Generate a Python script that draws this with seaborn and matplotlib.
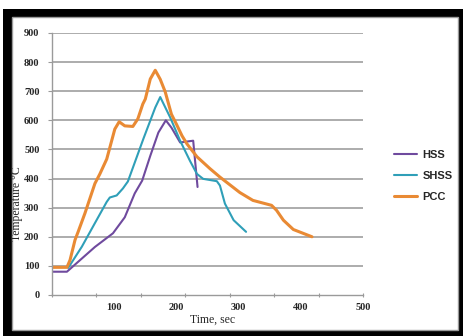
import numpy as np
import pandas as pd
import seaborn as sns
import matplotlib.pyplot as plt
from matplotlib.patches import Rectangle

# values
hss_time = [0, 24, 42, 69, 98, 117, 133, 145, 158, 171, 183, 192, 206, 227, 234]
hss_temp = [80, 80, 114, 165, 212, 267, 349, 393, 478, 558, 600, 575, 524, 530, 371]

shss_time = [26, 48, 69, 88, 93, 104, 114, 122, 147, 166, 174, 190, 206, 222, 233,
             243, 265, 270, 278, 292, 312]
shss_temp = [93, 166, 247, 320, 335, 342, 366, 390, 537, 644, 680, 610, 530, 460, 416,
             399, 391, 376, 314, 257, 217]

pcc_time = [0, 24, 29, 37, 42, 53, 61, 69, 77, 88, 101, 108, 117, 130, 138, 146, 150,
            158, 166, 174, 182, 192, 200, 209, 217, 233, 254, 270, 302, 323, 353, 361,
            372, 388, 418]
pcc_temp = [95, 95, 120, 189, 217, 281, 332, 383, 416, 467, 570, 595, 581, 579, 605, 656,
            673, 742, 772, 741, 698, 621, 587, 547, 519, 475, 434, 405, 352, 325, 308, 291,
            257, 225, 200]

series = ["HSS", "SHSS", "PCC"]
colors = {"HSS": "#6f4a9e", "SHSS": "#2f9fb8", "PCC": "#e98a34"}
y_ticks = [0, 100, 200, 300, 400, 500, 600, 700, 800, 900]
x_labels = [100, 200, 300, 400, 500]


def build_frame():
    parts = []
    for name, t, v in zip(series, [hss_time, shss_time, pcc_time],
                          [hss_temp, shss_temp, pcc_temp]):
        parts.append(pd.DataFrame({"time": t, "temp": v, "series": name}))
    return pd.concat(parts, ignore_index=True)


def plot_chart(df):
    sns.set_style("white")
    fig = plt.figure(figsize=(4.64, 3.36), dpi=100)

    # black outer frame and white inner panel like the screenshot
    fig.patches.append(Rectangle((3 / 464, 0), 461 / 464, 327 / 336,
                                 transform=fig.transFigure, facecolor="black",
                                 edgecolor="none", zorder=-2))
    fig.patches.append(Rectangle((12 / 464, 6 / 336), 446 / 464, 313 / 336,
                                 transform=fig.transFigure, facecolor="white",
                                 edgecolor="#9a9a9a", linewidth=1.0, zorder=-1))

    ax = fig.add_axes([52 / 464, 41 / 336, 311 / 464, 262 / 336])
    ax.patch.set_alpha(0)

    for s in y_ticks[1:]:
        ax.axhline(s, color="#a6a6a6", lw=1.3, zorder=0)

    widths = {"HSS": 1.5, "SHSS": 1.5, "PCC": 2.2}
    for name in series:
        sub = df[df["series"] == name]
        sns.lineplot(data=sub, x="time", y="temp", sort=False, estimator=None,
                     color=colors[name], lw=widths[name], label=name, ax=ax,
                     legend=False)

    ax.set_xlim(0, 500)
    ax.set_ylim(0, 900)
    for side in ["top", "right"]:
        ax.spines[side].set_visible(False)
    for side in ["left", "bottom"]:
        ax.spines[side].set_color("#9a9a9a")
        ax.spines[side].set_linewidth(1.0)

    serif = ["Liberation Serif", "DejaVu Serif"]
    ax.set_yticks(y_ticks)
    ax.set_yticklabels([str(v) for v in y_ticks], fontsize=7.5, family=serif,
                       fontweight="bold")
    ax.tick_params(axis="y", length=3, color="#9a9a9a", pad=6, left=True)

    # tick marks split the axis into 7 parts, labels sit at round values
    ax.xaxis.remove_overlapping_locs = False
    ax.set_xticks(np.linspace(0, 500, 8))
    ax.set_xticklabels([""] * 8)
    ax.tick_params(axis="x", which="major", length=3, color="#9a9a9a",
                   direction="inout", bottom=True)
    ax.set_xticks(x_labels, minor=True)
    ax.set_xticklabels([str(v) for v in x_labels], minor=True, fontsize=7.5,
                       family=serif, fontweight="bold")
    ax.tick_params(axis="x", which="minor", length=0, pad=6)

    ax.set_xlabel("Time, sec", fontsize=8.5, family=serif)
    ax.xaxis.set_label_coords(0.515, -0.07)
    ax.set_ylabel("Temperature °C", fontsize=8.5, family=serif)
    ax.yaxis.set_label_coords(-0.092, 0.35)

    handles, labels = ax.get_legend_handles_labels()
    fig.legend(handles, labels, loc="center left",
               bbox_to_anchor=(388 / 464, 1 - 176 / 336), frameon=False,
               prop={"family": "Liberation Sans", "weight": "bold", "size": 8},
               handlelength=2.1, handletextpad=0.5, labelspacing=1.0,
               borderpad=0)

    fig.savefig("out.png", dpi=100)


if __name__ == "__main__":
    plot_chart(build_frame())
